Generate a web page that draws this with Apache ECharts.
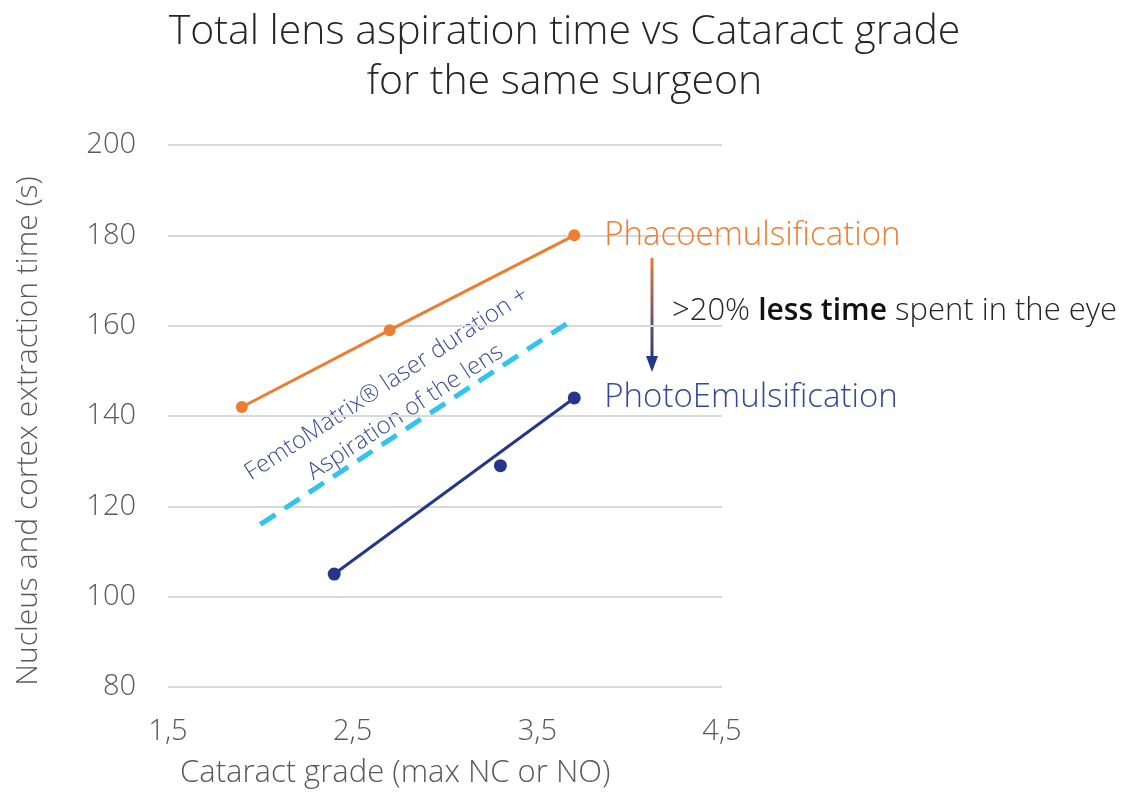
<!DOCTYPE html>
<html>
<head>
<meta charset="utf-8">
<script src="https://cdn.jsdelivr.net/npm/echarts@6/dist/echarts.min.js"></script>
<style>
  html, body { margin: 0; padding: 0; background: #fff; }
  #chart { width: 1129px; height: 796px; }
</style>
</head>
<body>
<div id="chart"></div>
<script>
(function() {
    // values
    const phacoPoints = [[1.9, 142], [2.7, 159], [3.7, 180]];
    const photoPoints = [[2.4, 105], [3.3, 129], [3.7, 144]];
    const photoLine = [[2.4, 105], [3.7, 144]];
    const femtoLine = [[2.0, 116], [3.68, 161]];

    const xTicks = [1.5, 2.5, 3.5, 4.5];
    const yTicks = [80, 100, 120, 140, 160, 180, 200];

    const orange = '#ED7D31';
    const navy = '#24378A';
    const font = '"Open Sans"';

    const chart = echarts.init(document.getElementById('chart'));

    let option = {
        animation: false,
        title: {
            text: 'Total lens aspiration time vs Cataract grade\nfor the same surgeon',
            left: 'center',
            top: 2,
            textStyle: {
                fontFamily: font,
                fontWeight: 300,
                fontSize: 41,
                lineHeight: 50,
                color: '#262626'
            }
        },
        grid: {
            left: 168,
            right: 407,
            top: 145,
            bottom: 109
        },
        xAxis: {
            type: 'value',
            min: xTicks[0],
            max: xTicks[xTicks.length - 1],
            interval: 1,
            axisLine: { show: false },
            axisTick: { show: false },
            splitLine: { show: false },
            axisLabel: {
                margin: 30,
                fontFamily: font,
                fontWeight: 300,
                fontSize: 29,
                color: '#595959',
                formatter: (v) => v.toFixed(1).replace('.', ',')
            }
        },
        yAxis: {
            type: 'value',
            min: yTicks[0],
            max: yTicks[yTicks.length - 1],
            interval: 20,
            axisLine: { show: false },
            axisTick: { show: false },
            splitLine: { lineStyle: { color: '#d9d9d9', width: 2 } },
            axisLabel: {
                margin: 32,
                fontFamily: font,
                fontWeight: 300,
                fontSize: 29,
                color: '#595959'
            }
        },
        series: [
            {
                name: 'Phacoemulsification',
                type: 'line',
                data: phacoPoints,
                symbol: 'circle',
                symbolSize: 12,
                itemStyle: { color: orange },
                lineStyle: { color: orange, width: 3 },
                endLabel: {
                    show: true,
                    formatter: '{a}',
                    distance: 30,
                    fontFamily: font,
                    fontWeight: 300,
                    fontSize: 33,
                    color: orange
                }
            },
            {
                name: 'PhotoEmulsification',
                type: 'line',
                data: photoLine,
                symbol: 'none',
                lineStyle: { color: navy, width: 3 },
                endLabel: {
                    show: true,
                    formatter: '{a}',
                    distance: 30,
                    fontFamily: font,
                    fontWeight: 300,
                    fontSize: 33,
                    color: '#34479A'
                }
            },
            {
                name: 'PhotoEmulsification points',
                type: 'scatter',
                data: photoPoints,
                symbol: 'circle',
                symbolSize: 13,
                itemStyle: { color: navy, opacity: 1 }
            },
            {
                name: 'FemtoMatrix',
                type: 'line',
                data: femtoLine,
                symbol: 'none',
                lineStyle: { color: '#33C3F0', width: 5, type: [18, 11] }
            }
        ],
        graphic: [
            {
                // y axis title, placed a bit below the middle like the original
                type: 'text',
                x: 28,
                y: 431,
                rotation: Math.PI / 2,
                style: {
                    text: 'Nucleus and cortex extraction time (s)',
                    align: 'center',
                    verticalAlign: 'middle',
                    fontFamily: font,
                    fontWeight: 300,
                    fontSize: 30,
                    fill: '#595959'
                }
            },
            {
                type: 'text',
                left: 180,
                top: 758,
                style: {
                    text: 'Cataract grade (max NC or NO)',
                    fontFamily: font,
                    fontWeight: 300,
                    fontSize: 31,
                    fill: '#595959'
                }
            },
            {
                type: 'text',
                x: 396,
                y: 398,
                rotation: 0.58,
                style: {
                    text: 'FemtoMatrix® laser duration +\nAspiration of the lens',
                    align: 'center',
                    verticalAlign: 'middle',
                    fontFamily: font,
                    fontWeight: 300,
                    fontSize: 24,
                    lineHeight: 34,
                    fill: '#3D4E9A'
                }
            },
            {
                type: 'line',
                shape: { x1: 652, y1: 258, x2: 652, y2: 358 },
                style: {
                    lineWidth: 3,
                    stroke: {
                        type: 'linear', x: 0, y: 0, x2: 0, y2: 1,
                        colorStops: [
                            { offset: 0, color: orange },
                            { offset: 1, color: navy }
                        ],
                        global: false
                    }
                }
            },
            {
                type: 'polygon',
                shape: { points: [[646, 356], [658, 356], [652, 372]] },
                style: { fill: navy }
            },
            {
                type: 'text',
                left: 672,
                top: 296,
                style: {
                    text: '{a|>20% }{b|less time}{a| spent in the eye}',
                    rich: {
                        a: { fontFamily: font, fontWeight: 300, fontSize: 31, fill: '#262626', color: '#262626' },
                        b: { fontFamily: font, fontWeight: 600, fontSize: 30, fill: '#111', color: '#111' }
                    }
                }
            }
        ]
    };

    chart.setOption(option);
})();
</script>
</body>
</html>
